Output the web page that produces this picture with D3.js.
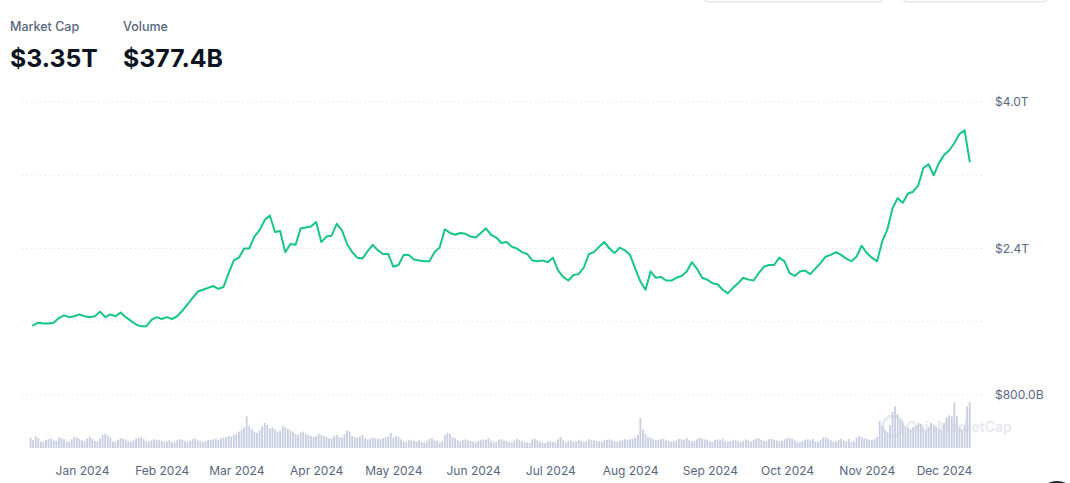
<!DOCTYPE html>
<html>
<head>
<meta charset="utf-8">
<script src="https://cdn.jsdelivr.net/npm/d3@7/dist/d3.min.js"></script>
<style>
  html, body { margin: 0; padding: 0; background: #ffffff; }
  svg { display: block; font-family: Inter, "Noto Sans", sans-serif; }
</style>
</head>
<body>
<svg id="chart" width="1070" height="483"></svg>
<script>
// ---------- DATA ----------
const headerLabels = ["Market Cap", "Volume"];
const headerValues = ["$3.35T", "$377.4B"];

// x-axis tick labels (month starts)
const monthTicks = ["2024-01-01","2024-02-01","2024-03-01","2024-04-01","2024-05-01","2024-06-01",
                    "2024-07-01","2024-08-01","2024-09-01","2024-10-01","2024-11-01","2024-12-01"];
const monthLabels = ["Jan 2024","Feb 2024","Mar 2024","Apr 2024","May 2024","Jun 2024",
                     "Jul 2024","Aug 2024","Sep 2024","Oct 2024","Nov 2024","Dec 2024"];

// y-axis gridlines (trillions) and their labels
const yTicks = [0.8, 1.6, 2.4, 3.2, 4.0];
const yTickLabels = ["$800.0B", "", "$2.4T", "", "$4.0T"];

// Market cap (trillion USD), every 2 days starting 2023-12-13
const capStart = "2023-12-13";
const capStepDays = 2;
const marketCapT = [
  1.56,1.59,1.58,1.58,1.59,1.64,1.67,1.65,1.66,1.68,
  1.66,1.65,1.66,1.71,1.65,1.68,1.66,1.70,1.65,1.61,
  1.57,1.55,1.55,1.62,1.65,1.63,1.65,1.63,1.66,1.72,
  1.79,1.86,1.93,1.95,1.97,1.99,1.96,1.98,2.13,2.27,
  2.30,2.40,2.40,2.53,2.60,2.71,2.76,2.58,2.59,2.36,
  2.45,2.44,2.62,2.63,2.64,2.69,2.47,2.53,2.54,2.67,
  2.60,2.45,2.36,2.30,2.29,2.37,2.44,2.38,2.34,2.34,
  2.20,2.22,2.33,2.33,2.28,2.27,2.26,2.26,2.36,2.41,
  2.61,2.57,2.55,2.57,2.56,2.53,2.52,2.57,2.62,2.55,
  2.52,2.46,2.47,2.42,2.40,2.36,2.34,2.27,2.26,2.27,
  2.25,2.30,2.16,2.09,2.05,2.11,2.12,2.19,2.34,2.36,
  2.42,2.47,2.40,2.35,2.41,2.38,2.33,2.18,2.04,1.95,
  2.15,2.08,2.09,2.05,2.05,2.08,2.10,2.15,2.25,2.18,
  2.08,2.06,2.02,2.01,1.95,1.91,1.97,2.02,2.08,2.06,
  2.05,2.13,2.20,2.22,2.22,2.30,2.26,2.13,2.10,2.15,
  2.16,2.12,2.18,2.24,2.31,2.33,2.36,2.33,2.29,2.26,
  2.31,2.43,2.35,2.30,2.26,2.48,2.61,2.84,2.95,2.90,
  3.00,3.02,3.09,3.28,3.32,3.20,3.33,3.42,3.47,3.55,
  3.65,3.69,3.35
];

// Daily volume (billion USD) starting 2023-12-12
const volStart = "2023-12-12";
const volumeB = [
  // Dec 2023 (12-31)
  95,70,110,90,60,55,75,80,85,70,65,95,90,80,60,55,80,100,95,85,
  // Jan
  70,60,90,105,85,65,60,90,120,130,115,95,60,55,75,90,85,80,60,55,70,85,90,100,80,60,55,70,80,75,70,
  // Feb
  65,55,60,70,50,55,70,80,75,60,55,65,80,85,70,60,55,60,75,70,80,85,75,90,95,100,110,105,120,
  // Mar
  130,150,170,190,290,200,170,150,140,160,200,230,210,180,190,170,150,160,200,190,175,160,150,130,120,140,150,130,120,110,100,
  // Apr
  110,130,120,110,100,90,85,110,120,100,95,125,160,150,110,100,95,105,120,90,80,85,95,90,85,80,90,100,105,140,
  // May
  95,110,100,80,60,55,75,70,65,60,70,55,50,60,80,90,70,65,50,60,120,140,130,100,90,70,60,75,80,70,65,
  // Jun
  60,50,65,70,80,75,90,60,50,55,75,80,70,65,55,50,70,85,75,60,55,50,45,80,85,70,55,50,45,60,
  // Jul
  60,55,50,80,100,70,50,65,70,55,60,75,65,55,60,80,75,70,65,60,55,70,75,80,70,60,55,65,75,80,70,
  // Aug
  80,85,95,120,275,170,130,100,95,80,70,75,80,85,70,65,55,60,70,85,80,75,90,70,60,65,80,95,85,80,75,
  // Sep
  60,55,75,80,70,85,60,55,65,70,75,60,55,65,80,70,60,75,85,90,75,65,60,80,85,75,70,60,65,80,
  // Oct
  90,95,85,70,55,50,65,75,80,70,85,60,55,75,95,100,85,70,55,60,75,85,70,60,85,55,60,95,110,100,90,
  // Nov
  85,75,70,80,100,250,200,160,140,210,330,380,310,260,230,200,180,170,190,210,230,220,180,160,190,230,200,190,180,170,
  // Dec 2024 (1-11)
  230,280,300,290,420,290,190,170,210,380,420
];

// ---------- CHART ----------
const svg = d3.select("#chart");
const parse = d3.timeParse("%Y-%m-%d");

const capData = marketCapT.map((v, i) => ({ date: d3.timeDay.offset(parse(capStart), i * capStepDays), v }));
const volData = volumeB.map((v, i) => ({ date: d3.timeDay.offset(parse(volStart), i), v }));

const x = d3.scaleTime()
  .domain([parse("2024-01-01"), parse("2024-12-01")])
  .range([82, 944]);
const y = d3.scaleLinear().domain([0.8, 4.0]).range([395, 102]);
const yVol = d3.scaleLinear().domain([0, 440]).range([448, 400]);

// top button remnants
svg.append("rect").attr("x", 703).attr("y", -30).attr("width", 181).attr("height", 32)
  .attr("rx", 6).attr("fill", "#ffffff").attr("stroke", "#e6e8ec").attr("stroke-width", 1.5);
svg.append("rect").attr("x", 902).attr("y", -30).attr("width", 146).attr("height", 32)
  .attr("rx", 6).attr("fill", "#ffffff").attr("stroke", "#e6e8ec").attr("stroke-width", 1.5);

// header
const hdrX = [10, 123];
headerLabels.forEach((t, i) => {
  svg.append("text").attr("x", hdrX[i]).attr("y", 31).attr("font-size", 12.5)
    .attr("fill", "#58667e").attr("font-weight", 500).text(t);
  svg.append("text").attr("x", hdrX[i]).attr("y", 67).attr("font-size", 24.8)
    .attr("fill", "#0d1421").attr("font-weight", 700).text(headerValues[i]);
});

// gridlines
svg.append("g").selectAll("line").data(yTicks).join("line")
  .attr("x1", 22).attr("x2", 982)
  .attr("y1", d => y(d)).attr("y2", d => y(d))
  .attr("stroke", "#e3e6ea").attr("stroke-width", 1).attr("stroke-dasharray", "1.5,3");

// y axis (right)
const yAxis = d3.axisRight(y).tickValues(yTicks)
  .tickFormat((d, i) => yTickLabels[i]).tickSize(0).tickPadding(0);
const gy = svg.append("g").attr("transform", "translate(995,0)").call(yAxis);
gy.select(".domain").remove();
gy.selectAll("text").attr("font-size", 12).attr("fill", "#58667e")
  .attr("font-family", "Inter, 'Noto Sans', sans-serif").attr("text-anchor", "start");

// watermark
const wm = svg.append("g").attr("opacity", 0.85);
wm.append("circle").attr("cx", 893).attr("cy", 426).attr("r", 10)
  .attr("fill", "none").attr("stroke", "#e3e6ec").attr("stroke-width", 3);
wm.append("text").attr("x", 906).attr("y", 432).attr("font-size", 14).attr("font-weight", 600)
  .attr("fill", "#e3e6ec").text("CoinMarketCap");

// volume bars
svg.append("g").selectAll("rect").data(volData).join("rect")
  .attr("x", d => x(d.date) - 0.9)
  .attr("width", 1.8)
  .attr("y", d => yVol(d.v))
  .attr("height", d => yVol(0) - yVol(d.v))
  .attr("fill", "#c9cee0");

// line
const line = d3.line().x(d => x(d.date)).y(d => y(d.v)).curve(d3.curveLinear);
svg.append("path").datum(capData).attr("d", line)
  .attr("fill", "none").attr("stroke", "#16c784").attr("stroke-width", 2)
  .attr("stroke-linejoin", "round").attr("stroke-linecap", "round");

// x axis
const xAxis = d3.axisBottom(x).tickValues(monthTicks.map(parse))
  .tickFormat((d, i) => monthLabels[i]).tickSize(0).tickPadding(0);
const gx = svg.append("g").attr("transform", "translate(0,466)").call(xAxis);
gx.select(".domain").remove();
gx.selectAll("text").attr("font-size", 12).attr("fill", "#58667e")
  .attr("font-family", "Inter, 'Noto Sans', sans-serif").attr("dy", "0.71em");

// dark round button partly visible at bottom right
svg.append("circle").attr("cx", 1057).attr("cy", 503).attr("r", 22).attr("fill", "#1e2329");
</script>
</body>
</html>
